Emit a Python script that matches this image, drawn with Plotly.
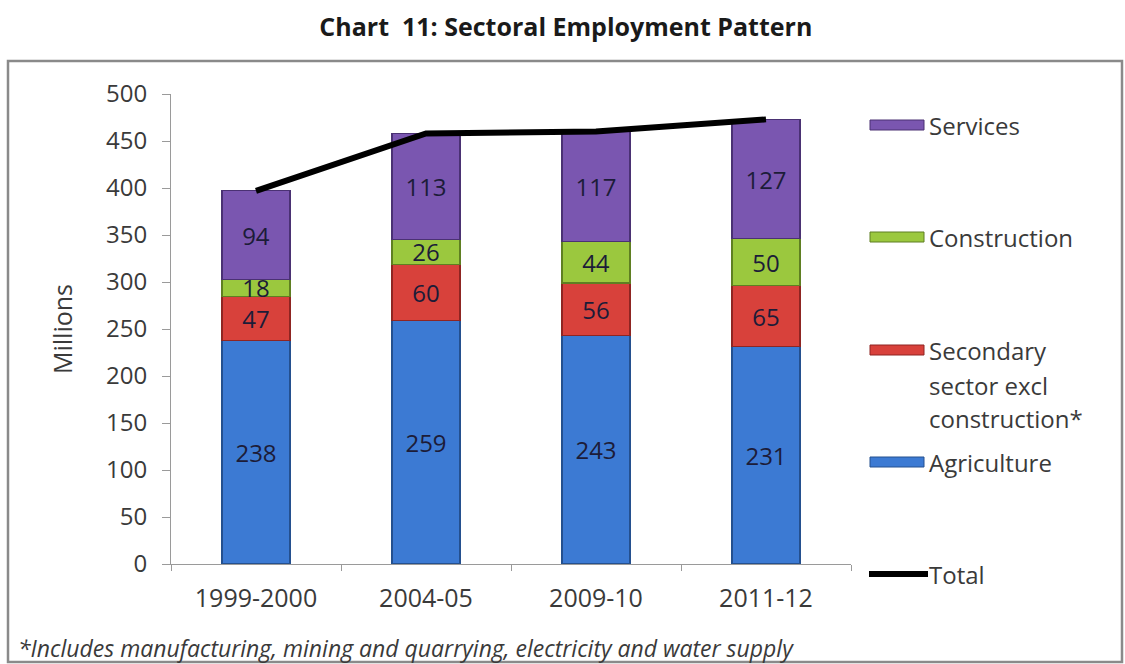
import plotly.graph_objects as go

# Employment by sector, millions
years = ["1999-2000", "2004-05", "2009-10", "2011-12"]
agriculture = [238, 259, 243, 231]
secondary = [47, 60, 56, 65]
construction = [18, 26, 44, 50]
services = [94, 113, 117, 127]
total = [a + b + c + d for a, b, c, d in zip(agriculture, secondary, construction, services)]

y_ticks = [0, 50, 100, 150, 200, 250, 300, 350, 400, 450, 500]

W, H = 1125, 664
L, R, T, B = 171, 851, 94, 564  # plot area in pixels

FONT = "'Open Sans', Lato, sans-serif"
TXT = "#3a3a3a"


def px(x):
    return (x - L) / (R - L)


def py(y):
    return (B - y) / (B - T)


series = [
    ("Agriculture", agriculture, "#3c7ad3", "#24508f"),
    ("Secondary sector excl construction*", secondary, "#d8413b", "#8f2522"),
    ("Construction", construction, "#9bc83e", "#5f7f22"),
    ("Services", services, "#7a56b0", "#4a3173"),
]

fig = go.Figure()
for name, vals, color, edge in series:
    fig.add_trace(go.Bar(
        x=years, y=vals, name=name,
        marker=dict(color=color, line=dict(color=edge, width=1.2)),
        text=[str(v) for v in vals], textposition="inside",
        insidetextanchor="middle", textangle=0, constraintext="none",
        textfont=dict(family=FONT, size=24, color="#1c1c38"),
        showlegend=False,
    ))

fig.add_trace(go.Scatter(
    x=years, y=total, mode="lines", name="Total",
    line=dict(color="black", width=6),
    showlegend=False,
))

shapes = []
annotations = []

# outer frame of the chart
shapes.append(dict(type="rect", xref="paper", yref="paper",
                   x0=px(8), x1=px(1122), y0=py(662), y1=py(61),
                   line=dict(color="#8a8a8a", width=2.5), fillcolor="rgba(0,0,0,0)",
                   layer="below"))

# legend: swatches + labels
LEG_SIZE = 24
legend_items = [
    ("Services", 125, "#7a56b0", "#4a3173"),
    ("Construction", 237, "#9bc83e", "#5f7f22"),
    ("Secondary", 350, "#d8413b", "#8f2522"),
    ("Agriculture", 462, "#3c7ad3", "#24508f"),
]
for label, yc, color, edge in legend_items:
    shapes.append(dict(type="rect", xref="paper", yref="paper",
                       x0=px(870), x1=px(924), y0=py(yc + 5), y1=py(yc - 5),
                       fillcolor=color, line=dict(color=edge, width=1)))
    annotations.append(dict(xref="paper", yref="paper", x=px(927), y=py(yc),
                            text=label, showarrow=False, xanchor="left", yanchor="middle",
                            font=dict(family=FONT, size=LEG_SIZE, color=TXT)))
for line_text, yc in [("sector excl", 385), ("construction*", 418)]:
    annotations.append(dict(xref="paper", yref="paper", x=px(927), y=py(yc),
                            text=line_text, showarrow=False, xanchor="left", yanchor="middle",
                            font=dict(family=FONT, size=LEG_SIZE, color=TXT)))
shapes.append(dict(type="line", xref="paper", yref="paper",
                   x0=px(869), x1=px(928), y0=py(574), y1=py(574),
                   line=dict(color="black", width=6)))
annotations.append(dict(xref="paper", yref="paper", x=px(927), y=py(574),
                        text="Total", showarrow=False, xanchor="left", yanchor="middle",
                        font=dict(family=FONT, size=LEG_SIZE, color=TXT)))

# footnote
annotations.append(dict(xref="paper", yref="paper", x=px(16), y=py(648),
                        text="<i>*Includes manufacturing, mining and quarrying, electricity and water supply</i>",
                        showarrow=False, xanchor="left", yanchor="middle",
                        font=dict(family=FONT, size=23, color=TXT)))

fig.update_layout(
    width=W, height=H,
    margin=dict(l=L, r=W - R, t=T, b=H - B, pad=0),
    paper_bgcolor="white", plot_bgcolor="white",
    barmode="stack", bargap=0.6,
    title=dict(text="<b>Chart  11: Sectoral Employment Pattern</b>",
               x=0.503, xanchor="center", y=1 - 27 / H, yanchor="middle",
               font=dict(family=FONT, size=25, color="#1a1a1a")),
    xaxis=dict(type="category", showgrid=False, showline=True, linecolor="#9a9a9a",
               linewidth=1, ticks="outside", tickson="boundaries", ticklen=6,
               tickcolor="#9a9a9a", ticklabelstandoff=12,
               tickfont=dict(family=FONT, size=25, color=TXT)),
    yaxis=dict(range=[0, 500], tickvals=y_ticks, showgrid=False,
               showline=True, linecolor="#9a9a9a", linewidth=1,
               ticks="outside", ticklen=8, tickcolor="#9a9a9a", ticklabelstandoff=10,
               tickfont=dict(family=FONT, size=24, color=TXT),
               title=dict(text="Millions", standoff=26,
                          font=dict(family=FONT, size=25, color=TXT))),
    shapes=shapes,
    annotations=annotations,
)

fig.write_html("out.html")
